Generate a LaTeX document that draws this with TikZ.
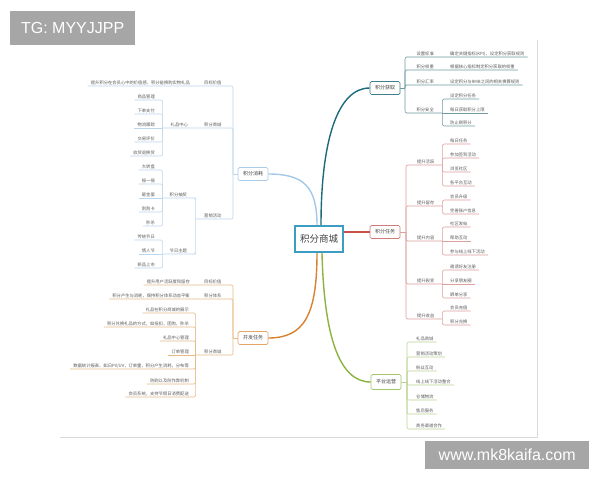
\documentclass[tikz,border=0pt]{standalone}
\usepackage{fontspec}
\newfontfamily\cjk{Noto Sans CJK SC}
\newfontfamily\wmfont{Liberation Sans}
\usetikzlibrary{calc}
\definecolor{gmain}{HTML}{1D6B7A}
\definecolor{gsub}{HTML}{6F9AA3}
\definecolor{gbox}{HTML}{3F7F8C}
\definecolor{tmain}{HTML}{C9504A}
\definecolor{tsub}{HTML}{DDA09D}
\definecolor{tbox}{HTML}{D07D79}
\definecolor{pmain}{HTML}{8AB43E}
\definecolor{psub}{HTML}{B9D290}
\definecolor{pbox}{HTML}{A5C56A}
\definecolor{dmain}{HTML}{D9822E}
\definecolor{dsub}{HTML}{E6B987}
\definecolor{dbox}{HTML}{E2A66A}
\definecolor{cmain}{HTML}{A3C8E8}
\definecolor{csub}{HTML}{BCD6EE}
\definecolor{cbox}{HTML}{A9CBE9}
\definecolor{cborder}{HTML}{3D9CC2}
\definecolor{txt}{HTML}{5A5A5A}
\definecolor{boxtxt}{HTML}{444444}
\definecolor{framec}{HTML}{DADADA}
\definecolor{wm}{HTML}{A6A6A6}
\newcommand\lfont{\cjk\fontsize{4.3}{5}\selectfont}
\tikzset{
  lf/.style={font=\lfont, text=txt, inner xsep=3pt, inner ysep=0.8pt},
  rl/.style={lf, anchor=south west},
  ll/.style={lf, anchor=south east},
  mbox/.style={draw, fill=white, rounded corners=1.5pt, line width=0.7pt,
    font=\cjk\fontsize{5}{6}\selectfont, text=boxtxt,
    minimum width=30pt, minimum height=13pt, inner sep=1pt},
  sub/.style={line width=0.55pt, rounded corners=2pt},
  trunk/.style={line width=1.4pt},
  wmbox/.style={fill=wm, text=white, font=\wmfont\fontsize{16}{18}\selectfont, inner sep=0pt, anchor=north west}
}
\begin{document}
\begin{tikzpicture}[x=1pt,y=-1pt]
\useasboundingbox (0,0) rectangle (600,480);
\fill[white] (0,0) rectangle (600,480);
% frame
\draw[framec, line width=0.6pt] (537,40) -- (537,437) -- (60,437);

% center
\node[draw=cborder, line width=1.6pt, fill=white, minimum width=48pt, minimum height=26pt,
  font=\cjk\fontsize{9.5}{11}\selectfont, text=boxtxt] (M) at (319,239) {积分商城};

% ===== 积分获取 =====
\node[mbox, draw=gbox] (G) at (385,88) {积分获取};
\coordinate (gb) at (405,88);
\draw[sub,gsub] (G.east) -- (gb);
\node[rl, minimum width=34pt] (g1) at (408,57) {设置标准};
\node[rl] (g1a) at (447,57) {确定关键指标(KPI)，设定积分获取规则};
\draw[sub,gsub] (gb) |- (g1.south west) -- (g1a.south east);
\node[rl, minimum width=34pt] (g2) at (408,70) {积分权重};
\node[rl] (g2a) at (447,70) {根据核心指标制定积分获取的权重};
\draw[sub,gsub] (gb) |- (g2.south west) -- (g2a.south east);
\node[rl, minimum width=34pt] (g3) at (408,85) {积分汇率};
\node[rl] (g3a) at (447,85) {设定积分与RMB之间的相关换算规则};
\draw[sub,gsub] (gb) |- (g3.south west) -- (g3a.south east);
\node[rl, minimum width=34pt] (g4) at (408,113) {积分安全};
\draw[sub,gsub] (gb) |- (g4.south west) -- (g4.south east);
\node[rl] (g4a) at (447,99) {设定积分任务};
\node[rl] (g4b) at (447,113) {每日获取积分上限};
\node[rl] (g4c) at (447,126) {防止刷积分};
\draw[sub,gsub] (g4.south east) |- (g4a.south west) -- (g4a.south east);
\draw[sub,gsub] (g4.south east) -- (g4b.south east);
\draw[sub,gsub] (g4.south east) |- (g4c.south west) -- (g4c.south east);

% ===== 积分任务 =====
\node[mbox, draw=tbox] (T) at (385,232) {积分任务};
\coordinate (tb) at (406,232);
\draw[sub,tsub] (T.east) -- (tb);
\node[rl, minimum width=33pt] (t1) at (409,165) {提升活跃};
\draw[sub,tsub] (tb) |- (t1.south west) -- (t1.south east);
\node[rl] (t1a) at (447,144) {每日任务};
\node[rl] (t1b) at (447,158) {参加签到活动};
\node[rl] (t1c) at (447,172) {浏览社区};
\node[rl] (t1d) at (447,186) {各平台互动};
\foreach \n in {t1a,t1b,t1c,t1d}
  \draw[sub,tsub] (t1.south east) |- (\n.south west) -- (\n.south east);
\node[rl, minimum width=33pt] (t2) at (409,206) {提升留存};
\draw[sub,tsub] (tb) |- (t2.south west) -- (t2.south east);
\node[rl] (t2a) at (447,200) {会员升级};
\node[rl] (t2b) at (447,214) {完善账户信息};
\foreach \n in {t2a,t2b}
  \draw[sub,tsub] (t2.south east) |- (\n.south west) -- (\n.south east);
\node[rl, minimum width=33pt] (t3) at (409,241) {提升内容};
\draw[sub,tsub] (tb) |- (t3.south west) -- (t3.south east);
\node[rl] (t3a) at (447,227) {社区发帖};
\node[rl] (t3b) at (447,241) {帮助互动};
\node[rl] (t3c) at (447,255) {参与线上线下活动};
\draw[sub,tsub] (t3.south east) |- (t3a.south west) -- (t3a.south east);
\draw[sub,tsub] (t3.south east) -- (t3b.south east);
\draw[sub,tsub] (t3.south east) |- (t3c.south west) -- (t3c.south east);
\node[rl, minimum width=33pt] (t4) at (409,284) {提升裂变};
\draw[sub,tsub] (tb) |- (t4.south west) -- (t4.south east);
\node[rl] (t4a) at (447,270) {邀请好友注册};
\node[rl] (t4b) at (447,284) {分享朋友圈};
\node[rl] (t4c) at (447,298) {晒单分享};
\draw[sub,tsub] (t4.south east) |- (t4a.south west) -- (t4a.south east);
\draw[sub,tsub] (t4.south east) -- (t4b.south east);
\draw[sub,tsub] (t4.south east) |- (t4c.south west) -- (t4c.south east);
\node[rl, minimum width=33pt] (t5) at (409,319) {提升收益};
\draw[sub,tsub] (tb) |- (t5.south west) -- (t5.south east);
\node[rl] (t5a) at (447,311) {会员充值};
\node[rl] (t5b) at (447,325) {积分兑换};
\foreach \n in {t5a,t5b}
  \draw[sub,tsub] (t5.south east) |- (\n.south west) -- (\n.south east);

% ===== 平台运营 =====
\node[mbox, draw=pbox, minimum height=15pt] (P) at (386,382) {平台运营};
\coordinate (pb) at (407,382);
\draw[sub,psub] (P.east) -- (pb);
\node[rl] (p1) at (413,342) {礼品商城};
\node[rl] (p2) at (413,357) {营销活动策划};
\node[rl] (p3) at (413,371) {粉丝互动};
\node[rl] (p4) at (413,385) {线上线下活动整合};
\node[rl] (p5) at (413,400) {仓储物流};
\node[rl] (p6) at (413,414) {售后服务};
\node[rl] (p7) at (413,429) {商务渠道合作};
\foreach \n in {p1,p2,p3,p4,p5,p6,p7}
  \draw[sub,psub] (pb) |- (\n.south west) -- (\n.south east);

% ===== 积分消耗 =====
\node[mbox, draw=cbox] (C) at (253,174) {积分消耗};
\coordinate (cb) at (233,174);
\draw[sub,csub] (C.west) -- (cb);
\node[ll, minimum width=34pt] (c1) at (230,86) {目标价值};
\node[ll] (c1a) at (193,86) {提升积分在会员心中的价值感，积分能换购实物礼品};
\draw[sub,csub] (cb) |- (c1.south east) -- (c1a.south west);
\node[ll, minimum width=34pt] (c2) at (230,128) {积分商城};
\node[ll, minimum width=33pt] (c2a) at (196,128) {礼品中心};
\draw[sub,csub] (cb) |- (c2.south east) -- (c2a.south west);
\node[ll] (c2a1) at (158,100) {商品管理};
\node[ll] (c2a2) at (158,114) {下单支付};
\node[ll] (c2a3) at (158,128) {物流跟踪};
\node[ll] (c2a4) at (158,142) {交易评价};
\node[ll] (c2a5) at (158,156) {收货退换货};
\draw[sub,csub] (c2a.south west) |- (c2a1.south east) -- (c2a1.south west);
\draw[sub,csub] (c2a.south west) |- (c2a2.south east) -- (c2a2.south west);
\draw[sub,csub] (c2a.south west) -- (c2a3.south west);
\draw[sub,csub] (c2a.south west) |- (c2a4.south east) -- (c2a4.south west);
\draw[sub,csub] (c2a.south west) |- (c2a5.south east) -- (c2a5.south west);
\node[ll, minimum width=34pt] (c3) at (230,219) {营销活动};
\draw[sub,csub] (cb) |- (c3.south east) -- (c3.south west);
\node[ll, minimum width=31pt] (c3a) at (194,198) {积分抽奖};
\node[ll, minimum width=31pt] (c3b) at (194,254) {节日主题};
\draw[sub,csub] (c3.south west) |- (c3a.south east) -- (c3a.south west);
\draw[sub,csub] (c3.south west) |- (c3b.south east) -- (c3b.south west);
\node[ll] (c3a1) at (158,170) {大转盘};
\node[ll] (c3a2) at (158,184) {摇一摇};
\node[ll] (c3a3) at (158,198) {砸金蛋};
\node[ll] (c3a4) at (158,212) {刮刮卡};
\node[ll] (c3a5) at (158,226) {秒杀};
\foreach \n in {c3a1,c3a2,c3a4,c3a5}
  \draw[sub,csub] (c3a.south west) |- (\n.south east) -- (\n.south west);
\draw[sub,csub] (c3a.south west) -- (c3a3.south west);
\node[ll] (c3b1) at (158,240) {传统节日};
\node[ll] (c3b2) at (158,254) {情人节};
\node[ll] (c3b3) at (158,268) {新品上市};
\draw[sub,csub] (c3b.south west) |- (c3b1.south east) -- (c3b1.south west);
\draw[sub,csub] (c3b.south west) -- (c3b2.south west);
\draw[sub,csub] (c3b.south west) |- (c3b3.south east) -- (c3b3.south west);

% ===== 开发任务 =====
\node[mbox, draw=dbox] (D) at (253,338) {开发任务};
\coordinate (db) at (233,338);
\draw[sub,dsub] (D.west) -- (db);
\node[ll, minimum width=34pt] (d1) at (230,285) {目标价值};
\node[ll] (d1a) at (193,285) {提升用户活跃度和留存};
\draw[sub,dsub] (db) |- (d1.south east) -- (d1a.south west);
\node[ll, minimum width=34pt] (d2) at (230,299) {积分体系};
\node[ll] (d2a) at (193,299) {积分产生与消耗，保持积分体系动态平衡};
\draw[sub,dsub] (db) |- (d2.south east) -- (d2a.south west);
\node[ll, minimum width=34pt] (d3) at (230,355) {积分商城};
\draw[sub,dsub] (db) |- (d3.south east) -- (d3.south west);
\node[ll] (d3a) at (192,313) {礼品在积分商城的展示};
\node[ll] (d3b) at (192,327) {积分兑换礼品的方式，如抵扣，团购，秒杀};
\node[ll] (d3c) at (192,341) {礼品中心管理};
\node[ll] (d3d) at (192,355) {订单管理};
\node[ll] (d3e) at (192,369) {数据统计报表，如日PV/UV，订单量，积分产生消耗，分布等};
\node[ll] (d3f) at (192,384) {防刷以及防作弊机制};
\node[ll] (d3g) at (192,397) {会员系统，支持节假日消费配送};
\foreach \n in {d3a,d3b,d3c,d3e,d3f,d3g}
  \draw[sub,dsub] (d3.south west) |- (\n.south east) -- (\n.south west);
\draw[sub,dsub] (d3.south west) -- (d3d.south west);

% ===== trunks =====
\draw[trunk,gmain] ([xshift=2pt]M.north) .. controls +(0,-85) and +(-32,0) .. (G.west);
\draw[trunk,cmain] ([xshift=-2pt]M.north) .. controls +(0,-38) and +(36,0) .. (C.east);
\draw[trunk,dmain] ([xshift=-2pt]M.south) .. controls +(0,62) and +(36,0) .. (D.east);
\draw[trunk,pmain] ([xshift=3pt]M.south) .. controls +(2,82) and +(-32,0) .. (P.west);
\draw[trunk,tmain] (T.west -| M.east) -- (T.west);

% watermarks
\node[wmbox, minimum width=125pt, minimum height=34pt] (wm1) at (10,11) {TG: MYYJJPP};
\node[wmbox, minimum width=164pt, minimum height=28pt] (wm2) at (425,441) {www.mk8kaifa.com};
\end{tikzpicture}
\end{document}
